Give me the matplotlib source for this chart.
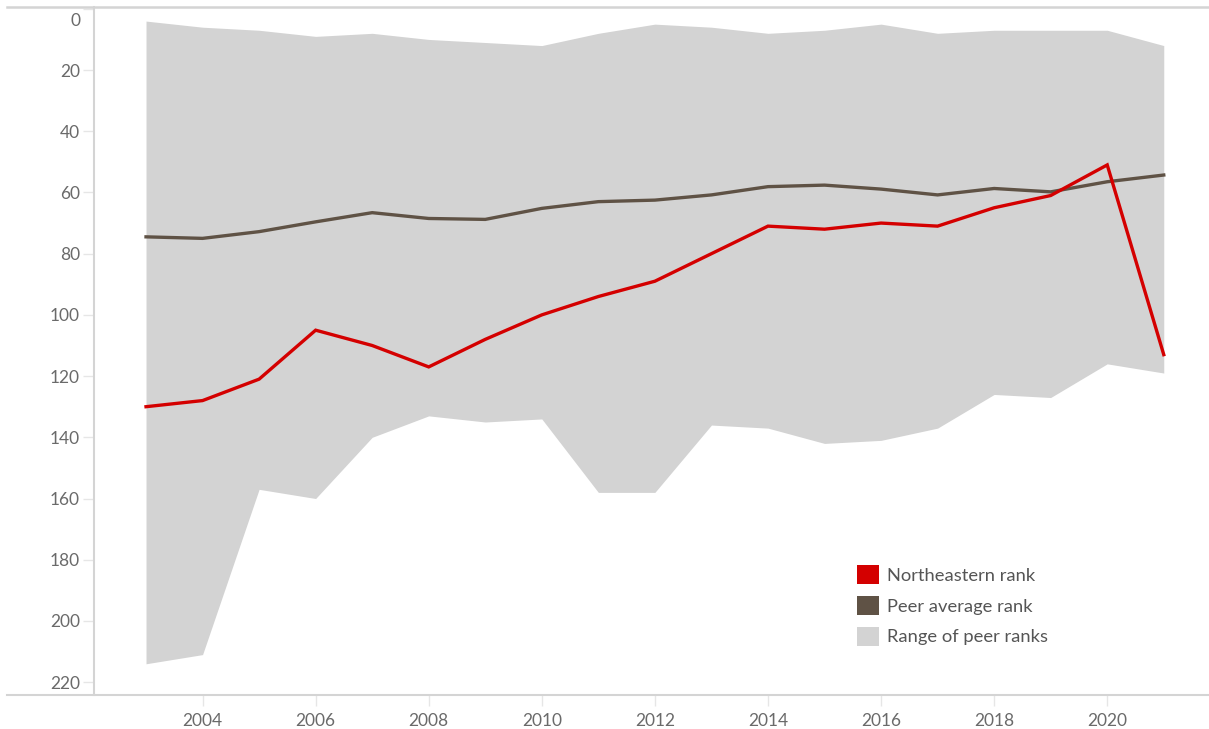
import matplotlib
matplotlib.use("Agg")
import matplotlib.pyplot as plt
from matplotlib.patches import Patch
from matplotlib.lines import Line2D
import matplotlib.transforms as mtransforms

years = list(range(2003, 2022))
northeastern_rank = [130, 128, 121, 105, 110, 117, 108, 100, 94, 89, 80, 71, 72, 70, 71, 65, 61, 51, 113]
peer_average_rank = [74.5, 75.0, 72.8, 69.6, 66.6, 68.5, 68.8, 65.2, 63.0, 62.5, 60.8, 58.1, 57.6, 58.9, 60.8, 58.7, 59.8, 56.5, 54.3]
peer_best_rank = [4, 6, 7, 9, 8, 10, 11, 12, 8, 5, 6, 8, 7, 5, 8, 7, 7, 7, 12]
peer_worst_rank = [214, 211, 157, 160, 140, 133, 135, 134, 158, 158, 136, 137, 142, 141, 137, 126, 127, 116, 119]
y_ticks = [0, 20, 40, 60, 80, 100, 120, 140, 160, 180, 200, 220]
x_ticks = [2004, 2006, 2008, 2010, 2012, 2014, 2016, 2018, 2020]
legend_labels = ["Northeastern rank", "Peer average rank", "Range of peer ranks"]

RED = "#d40000"
BROWN = "#5f5245"
FILL = "#d3d3d3"
AXIS = "#d4d4d4"
TXT = "#6a6a6a"

plt.rcParams['font.family'] = ['Lato', 'DejaVu Sans']

W, H = 1209, 729
fig = plt.figure(figsize=(W / 100, H / 100), dpi=100)
ax = fig.add_axes([94 / W, 1 - 695 / H, (W - 94) / W, (695 - 7) / H])

ax.fill_between(years, peer_best_rank, peer_worst_rank, color=FILL, linewidth=0, zorder=1)
ax.plot(years, peer_average_rank, color=BROWN, lw=2.4, zorder=3, solid_joinstyle='miter')
ax.plot(years, northeastern_rank, color=RED, lw=2.4, zorder=4, solid_joinstyle='miter')

ax.set_xlim(2002.08, 2021.8)
ax.set_ylim(224.2, -0.6)

ax.set_yticks(y_ticks)
ax.set_yticklabels([str(v) for v in y_ticks])
ax.set_xticks(x_ticks)
ax.set_xticklabels([str(v) for v in x_ticks])

ax.tick_params(axis='y', length=8, width=1, color="#e6e6e6", labelcolor=TXT, labelsize=12.5, pad=2)
ax.tick_params(axis='x', length=8, width=1, color="#e6e6e6", labelcolor=TXT, labelsize=12.5, pad=5)

# top label shifted down like the reference
lbl0 = ax.get_yticklabels()[0]
lbl0.set_transform(lbl0.get_transform() + mtransforms.ScaledTranslation(0, -11 / 100, fig.dpi_scale_trans))

for s in ['top', 'right', 'bottom']:
    ax.spines[s].set_visible(False)
ax.spines['left'].set_color(AXIS)
ax.spines['left'].set_linewidth(1.5)

# full-width frame lines (top and bottom)
fig.add_artist(Line2D([7 / W, 1], [1 - 7 / H, 1 - 7 / H], color=AXIS, lw=1.8, transform=fig.transFigure))
fig.add_artist(Line2D([7 / W, 1], [1 - 695 / H, 1 - 695 / H], color=AXIS, lw=1.5, transform=fig.transFigure))

handles = [Patch(facecolor=RED, edgecolor='none'),
           Patch(facecolor=BROWN, edgecolor='none'),
           Patch(facecolor=FILL, edgecolor='none')]
leg = fig.legend(handles, legend_labels, loc='upper left',
                 bbox_to_anchor=(857 / W, 1 - 565 / H), frameon=False,
                 fontsize=13.2, handlelength=1.2, handleheight=1.25,
                 handletextpad=0.45, labelspacing=0.62, borderpad=0, borderaxespad=0)
for t in leg.get_texts():
    t.set_color("#555555")

fig.savefig("out.png", dpi=100)
